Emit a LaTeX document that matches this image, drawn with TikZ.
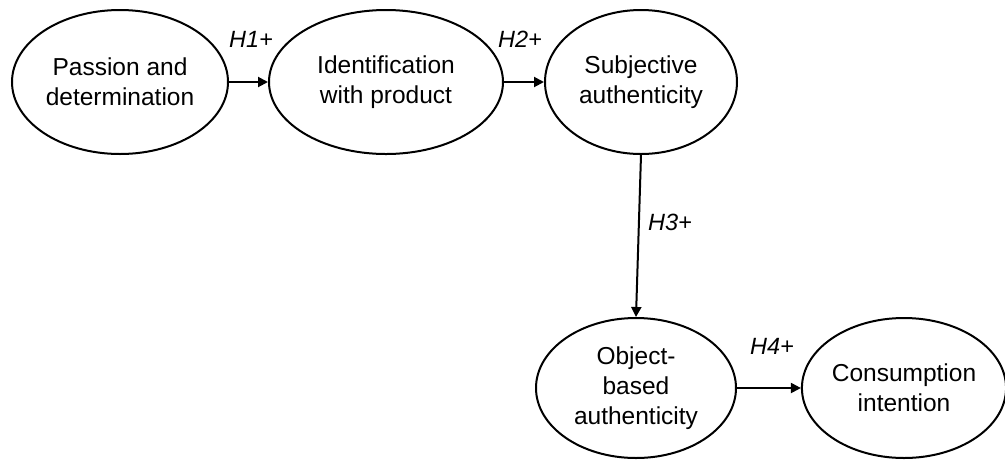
\documentclass[tikz,border=0pt]{standalone}
\usepackage{fontspec}
\setmainfont{Liberation Sans}
\usetikzlibrary{shapes.geometric,arrows.meta}
\begin{document}
\begin{tikzpicture}[x=1pt,y=-1pt,
  construct/.style={draw, ellipse, line width=2pt, inner sep=0pt, align=center,
    font=\fontsize{24.5}{30}\selectfont},
  link/.style={line width=2pt, -{Triangle[length=10pt,width=10pt]}},
  hyp/.style={font=\fontsize{23.5}{28}\selectfont\itshape}]
\useasboundingbox (0,0) rectangle (1005,459);

% constructs of the model
\node[construct, minimum width=216pt, minimum height=144pt] (pd) at (120,82)
  {Passion and\\determination};
\node[construct, minimum width=234pt, minimum height=144pt] (ip) at (386,82)
  {Identification\\with product};
\node[construct, minimum width=192pt, minimum height=144pt] (sa) at (641,82)
  {Subjective\\authenticity};
\node[construct, minimum width=200pt, minimum height=140pt] (oa) at (636,388)
  {Object-\\based\\authenticity};
\node[construct, minimum width=200pt, minimum height=140pt] (ci) at (904,388)
  {Consumption\\intention};

% hypothesised paths
\draw[link] (pd.east) -- (ip.west);
\draw[link] (ip.east) -- (sa.west);
\draw[link] (sa.south) -- (oa.north);
\draw[link] (oa.east) -- (ci.west);

% hypothesis labels
\node[hyp] (h1) at (251,39) {H1+};
\node[hyp] (h2) at (520,39) {H2+};
\node[hyp] (h3) at (670,222) {H3+};
\node[hyp] (h4) at (772,346) {H4+};
\end{tikzpicture}
\end{document}
